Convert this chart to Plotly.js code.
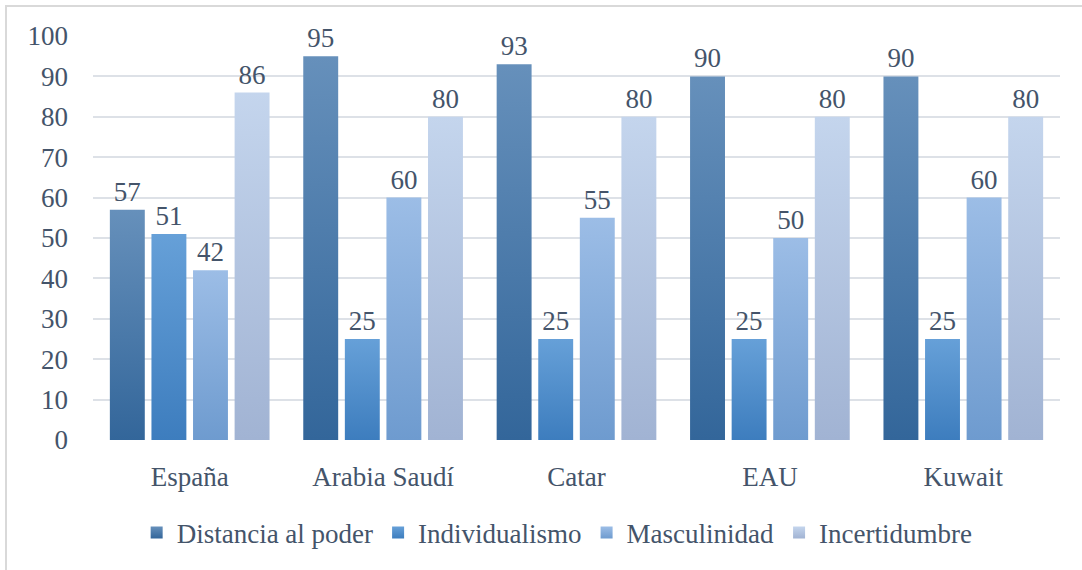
<!DOCTYPE html>
<html>
<head>
<meta charset="utf-8">
<script src="https://cdn.plot.ly/plotly-3.0.1.min.js"></script>
<style>
html,body{margin:0;padding:0;background:#fff;overflow:hidden;}
#wrap{position:relative;width:1082px;height:570px;}
#chart{position:absolute;left:0;top:0;width:1082px;height:570px;}
#frame{position:absolute;left:5px;top:5px;width:2000px;height:2000px;border:2px solid #d9d9d9;pointer-events:none;}
#chart svg text{font-family:"Liberation Serif","DejaVu Serif",serif !important;}
</style>
</head>
<body>
<div id="wrap"><div id="chart"></div><div id="frame"></div></div>
<script>
const categories = ["España", "Arabia Saudí", "Catar", "EAU", "Kuwait"];
const seriesNames = ["Distancia al poder", "Individualismo", "Masculinidad", "Incertidumbre"];
const distancia = [57, 95, 93, 90, 90];
const individualismo = [51, 25, 25, 25, 25];
const masculinidad = [42, 60, 55, 50, 60];
const incertidumbre = [86, 80, 80, 80, 80];
const yTicks = [0, 10, 20, 30, 40, 50, 60, 70, 80, 90, 100];

const seriesValues = [distancia, individualismo, masculinidad, incertidumbre];
const midColors = ["#4677a8", "#4f8bc9", "#83abdb", "#b3c5e2"];
const gradTop = ["#6690bb", "#66a0d8", "#9cbde6", "#c4d5ed"];
const gradBottom = ["#33669a", "#3d7dbe", "#6e9bcf", "#a1b3d3"];
const textColor = "#44546a";
const fontFam = "Liberation Serif";

const traces = seriesValues.map((vals, i) => ({
  type: "bar",
  name: seriesNames[i],
  x: categories,
  y: vals,
  marker: {color: midColors[i], line: {width: 0}},
  text: vals.map(String),
  textposition: "outside",
  constraintext: "none",
  textfont: {family: fontFam, size: 27, color: textColor},
  cliponaxis: false,
  hoverinfo: "none"
}));

const layout = {
  width: 1082,
  height: 570,
  margin: {l: 93, r: 22, t: 36, b: 130, autoexpand: false},
  paper_bgcolor: "#ffffff",
  plot_bgcolor: "#ffffff",
  font: {family: fontFam, size: 27, color: textColor},
  barmode: "group",
  bargap: 0.14,
  bargroupgap: 0.16,
  showlegend: true,
  legend: {
    orientation: "h",
    x: 0.48,
    xanchor: "center",
    y: -0.23,
    yanchor: "middle",
    font: {family: fontFam, size: 27, color: textColor},
    itemwidth: 30,
    traceorder: "normal"
  },
  xaxis: {
    showgrid: false,
    showline: false,
    zeroline: false,
    ticks: "",
    tickangle: 0,
    automargin: false,
    ticklabelstandoff: 18,
    tickfont: {family: fontFam, size: 27, color: textColor}
  },
  yaxis: {
    range: [0, 100],
    tickvals: yTicks,
    ticktext: yTicks.map(String),
    showgrid: true,
    gridcolor: "#dde1e7",
    gridwidth: 2,
    zeroline: false,
    showline: false,
    ticks: "",
    automargin: false,
    ticklabelstandoff: 24,
    tickfont: {family: fontFam, size: 27, color: textColor}
  }
};

Plotly.newPlot("chart", traces, layout, {displayModeBar: false, staticPlot: true}).then(gd => {
  const svg = gd.querySelector("svg.main-svg");
  let defs = svg.querySelector("defs");
  const NS = "http://www.w3.org/2000/svg";
  if (!defs) { defs = document.createElementNS(NS, "defs"); svg.insertBefore(defs, svg.firstChild); }
  seriesNames.forEach((n, i) => {
    const g = document.createElementNS(NS, "linearGradient");
    g.setAttribute("id", "barGrad" + i);
    g.setAttribute("x1", "0"); g.setAttribute("y1", "0");
    g.setAttribute("x2", "0"); g.setAttribute("y2", "1");
    const s1 = document.createElementNS(NS, "stop");
    s1.setAttribute("offset", "0"); s1.setAttribute("stop-color", gradTop[i]);
    const s2 = document.createElementNS(NS, "stop");
    s2.setAttribute("offset", "1"); s2.setAttribute("stop-color", gradBottom[i]);
    g.appendChild(s1); g.appendChild(s2);
    defs.appendChild(g);
  });
  gd.querySelectorAll("g.barlayer g.trace.bars").forEach((t, i) => {
    t.querySelectorAll("g.point path").forEach(p => { p.style.fill = "url(#barGrad" + i + ")"; });
  });
  gd.querySelectorAll("g.legend g.traces").forEach((t, i) => {
    t.querySelectorAll("g.legendpoints path").forEach(p => { p.style.fill = "url(#barGrad" + i + ")"; });
  });
});
</script>
</body>
</html>
